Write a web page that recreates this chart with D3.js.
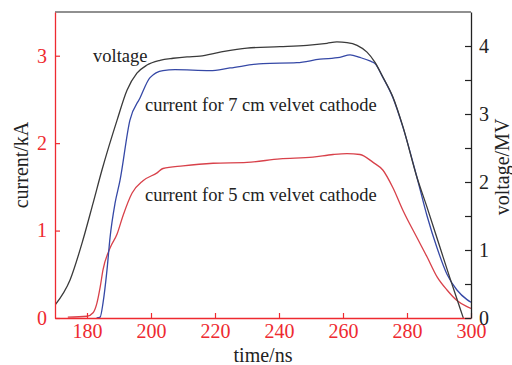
<!DOCTYPE html>
<html>
<head>
<meta charset="utf-8">
<script src="https://cdn.jsdelivr.net/npm/d3@7"></script>
<style>
  body { margin: 0; background: #fff; }
  svg { display: block; font-family: "Liberation Serif", "Times New Roman", serif; }
</style>
</head>
<body>
<script>
// time (ns) vs voltage (MV, right axis)
var voltage = [
  [170, 0.19], [174.7, 0.56], [178.75, 1.15], [181.9, 1.69], [184.7, 2.18],
  [189.4, 2.91], [192.5, 3.35], [195.6, 3.60], [198.75, 3.72], [202.8, 3.79],
  [206.9, 3.82], [211.25, 3.84], [215.3, 3.85], [221.6, 3.91], [230, 3.97],
  [240.3, 3.99], [248.75, 4.01], [255, 4.04], [258.1, 4.06], [261.25, 4.05],
  [264.4, 4.01], [267.5, 3.91], [270, 3.76], [272.5, 3.54], [275.6, 3.25],
  [278.75, 2.81], [283.1, 2.07], [286.25, 1.63], [290.3, 1.04], [293.4, 0.59],
  [296.6, 0.14], [297.6, 0]
];
// current for 7 cm velvet cathode (kA, left axis)
var current7 = [
  [183, 0], [184.1, 0.01], [185, 0.17], [186.25, 0.55], [187.2, 0.92],
  [188.75, 1.31], [190.3, 1.57], [193.4, 2.26], [196.6, 2.52], [199.7, 2.75],
  [203.75, 2.83], [207.5, 2.84], [218.4, 2.83], [224.7, 2.86], [235, 2.91],
  [245.6, 2.92], [252.8, 2.96], [259, 2.98], [262.2, 3.01], [265.3, 2.98],
  [268.4, 2.94], [270, 2.91], [272.5, 2.75], [275.6, 2.52], [278.75, 2.18],
  [283.1, 1.61], [286.25, 1.17], [289.4, 0.80], [292.5, 0.50], [295.6, 0.32],
  [298.75, 0.21], [300, 0.18]
];
// current for 5 cm velvet cathode (kA, left axis)
var current5 = [
  [174, 0.01], [180, 0.02], [181.9, 0.06], [183.1, 0.17], [184.1, 0.35],
  [185, 0.55], [187.2, 0.80], [189.4, 0.96], [191.25, 1.17], [194.1, 1.43],
  [197.5, 1.57], [201.9, 1.66], [203.75, 1.71], [210, 1.74], [219.4, 1.77],
  [230, 1.78], [240.3, 1.82], [250.6, 1.84], [256.9, 1.87], [261.25, 1.88],
  [265.3, 1.87], [269.4, 1.78], [272.5, 1.69], [275.6, 1.49], [278.75, 1.23],
  [283.1, 0.92], [286.25, 0.70], [289.4, 0.47], [292.5, 0.32], [295.6, 0.20],
  [298.75, 0.13], [300, 0.11]
];
var xTicks = [180, 200, 220, 240, 260, 280, 300];
var leftTicks = [0, 1, 2, 3];
var rightTicks = [0, 0.5, 1, 1.5, 2, 2.5, 3, 3.5, 4];
var rightLabels = [0, 1, 2, 3, 4];

var width = 512, height = 365;
var margin = {top: 12, right: 41, bottom: 47, left: 55};
var red = "#ee2a30", dark = "#222";

var svg = d3.select("body").append("svg")
    .attr("width", width)
    .attr("height", height);

var x = d3.scaleLinear().domain([170, 300]).range([margin.left, width - margin.right]);
var yL = d3.scaleLinear().domain([0, 3.5]).range([height - margin.bottom, margin.top]);
var yR = d3.scaleLinear().domain([0, 4.5]).range([height - margin.bottom, margin.top]);

svg.append("clipPath").attr("id", "clip")
  .append("rect")
    .attr("x", margin.left).attr("y", margin.top)
    .attr("width", x.range()[1] - margin.left)
    .attr("height", yL.range()[0] - margin.top);

var g = svg.append("g").attr("clip-path", "url(#clip)");

function line(ys) {
  return d3.line()
    .x(function(d) { return x(d[0]); })
    .y(function(d) { return ys(d[1]); })
    .curve(d3.curveMonotoneX);
}

g.append("path").datum(current5)
    .attr("fill", "none").attr("stroke", "#d8414a").attr("stroke-width", 1.3)
    .attr("d", line(yL));
g.append("path").datum(current7)
    .attr("fill", "none").attr("stroke", "#3548a6").attr("stroke-width", 1.3)
    .attr("d", line(yL));
g.append("path").datum(voltage)
    .attr("fill", "none").attr("stroke", "#3a3a3a").attr("stroke-width", 1.3)
    .attr("d", line(yR));

// frame: top black
var x0 = x.range()[0], x1 = x.range()[1], y0 = yL.range()[0], y1 = yL.range()[1];
svg.append("line").attr("x1", x0).attr("x2", x1).attr("y1", y1).attr("y2", y1)
    .attr("stroke", dark).attr("stroke-width", 1.2);

// bottom axis (red)
var xAxis = svg.append("g")
    .attr("transform", "translate(0," + y0 + ")")
    .call(d3.axisBottom(x).tickValues(xTicks).tickSize(-5).tickSizeOuter(0));
xAxis.select(".domain").attr("stroke", red).attr("stroke-width", 1.3);
xAxis.selectAll(".tick line").attr("stroke", red).attr("stroke-width", 1.2);
xAxis.selectAll(".tick text")
    .attr("fill", red).attr("font-size", 20).attr("font-family", "Liberation Serif")
    .attr("dy", null).attr("y", 20);

// left axis (red)
var lAxis = svg.append("g")
    .attr("transform", "translate(" + x0 + ",0)")
    .call(d3.axisLeft(yL).tickValues(leftTicks).tickSize(-5).tickPadding(8).tickSizeOuter(0)
      .tickFormat(d3.format("d")));
lAxis.select(".domain").attr("stroke", red).attr("stroke-width", 1.3);
lAxis.selectAll(".tick line").attr("stroke", red).attr("stroke-width", 1.2);
lAxis.selectAll(".tick text")
    .attr("fill", red).attr("font-size", 20).attr("font-family", "Liberation Serif");

// right axis (black), minor ticks every 0.5
var rAxis = svg.append("g")
    .attr("transform", "translate(" + x1 + ",0)")
    .call(d3.axisRight(yR).tickValues(rightTicks).tickSize(-6).tickPadding(8).tickSizeOuter(0)
      .tickFormat(function(d) { return rightLabels.indexOf(d) >= 0 ? d3.format("d")(d) : ""; }));
rAxis.select(".domain").attr("stroke", dark).attr("stroke-width", 1.3);
rAxis.selectAll(".tick line").attr("stroke", dark).attr("stroke-width", 1.2);
rAxis.selectAll(".tick text")
    .attr("fill", dark).attr("font-size", 20).attr("font-family", "Liberation Serif");

// axis titles
svg.append("text")
    .attr("transform", "translate(28," + ((y0 + y1) / 2) + ") rotate(-90)")
    .attr("text-anchor", "middle").attr("font-size", 20).attr("fill", dark)
    .text("current/kA");
svg.append("text")
    .attr("transform", "translate(509," + ((y0 + y1) / 2 + 2) + ") rotate(-90)")
    .attr("text-anchor", "middle").attr("font-size", 20).attr("fill", dark)
    .text("voltage/MV");
svg.append("text")
    .attr("x", (x0 + x1) / 2).attr("y", 362)
    .attr("text-anchor", "middle").attr("font-size", 20).attr("fill", dark)
    .text("time/ns");

// curve annotations
svg.append("text").attr("x", 93).attr("y", 62)
    .attr("font-size", 18.5).attr("fill", dark).text("voltage");
svg.append("text").attr("x", 145).attr("y", 111)
    .attr("font-size", 18.5).attr("fill", dark).text("current for 7 cm velvet cathode");
svg.append("text").attr("x", 145).attr("y", 201)
    .attr("font-size", 18.5).attr("fill", dark).text("current for 5 cm velvet cathode");
</script>
</body>
</html>
